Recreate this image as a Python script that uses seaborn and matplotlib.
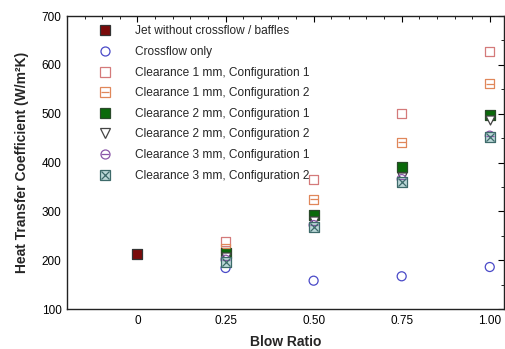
import matplotlib
matplotlib.use("Agg")
import matplotlib.pyplot as plt
import seaborn as sns
import numpy as np
from matplotlib.ticker import MultipleLocator, FixedLocator

sns.set_theme(style="white")
plt.rcParams['font.family'] = ['Liberation Sans', 'DejaVu Sans']

# ---- data ----
blow_jet = [0.0]
htc_jet = [212]
blow = [0.25, 0.50, 0.75, 1.00]
htc_crossflow = [184, 158, 167, 186]
htc_c1_cfg1 = [239, 366, 500, 627]
htc_c1_cfg2 = [224, 325, 442, 561]
htc_c2_cfg1 = [215, 293, 391, 497]
htc_c2_cfg2 = [207, 280, 370, 487]
htc_c3_cfg1 = [201, 272, 366, 455]
htc_c3_cfg2 = [196, 268, 361, 453]
labels = ["Jet without crossflow / baffles", "Crossflow only",
          "Clearance 1 mm, Configuration 1", "Clearance 1 mm, Configuration 2",
          "Clearance 2 mm, Configuration 1", "Clearance 2 mm, Configuration 2",
          "Clearance 3 mm, Configuration 1", "Clearance 3 mm, Configuration 2"]
xticks = [0, 0.25, 0.50, 0.75, 1.00]
xticklabels = ["0", "0.25", "0.50", "0.75", "1.00"]
yticks = [100, 200, 300, 400, 500, 600, 700]

fig = plt.figure(figsize=(5.05, 3.49), dpi=100)
ax = fig.add_axes([0.1327, 0.1146, 0.865, 0.8395])

S = 42
series = [
    (blow_jet, htc_jet, dict(marker='s', facecolor='#7a0a0a', edgecolor='#333333'), None),
    (blow, htc_crossflow, dict(marker='o', facecolor='none', edgecolor='#4a4ac8'), None),
    (blow, htc_c1_cfg1, dict(marker='s', facecolor='none', edgecolor='#d47a7a'), None),
    (blow, htc_c1_cfg2, dict(marker='s', facecolor='none', edgecolor='#e0875a'), dict(marker='_', color='#e0875a')),
    (blow, htc_c2_cfg1, dict(marker='s', facecolor='#0a6a0a', edgecolor='#2a4a2a'), None),
    (blow, htc_c2_cfg2, dict(marker='v', facecolor='white', edgecolor='#444444'), None),
    (blow, htc_c3_cfg1, dict(marker='o', facecolor='none', edgecolor='#8a55a8'), dict(marker='_', color='#8a55a8')),
    (blow, htc_c3_cfg2, dict(marker='s', facecolor='#bcd8d8', edgecolor='#3d6a6a'), dict(marker='x', color='#3d6a6a')),
]

handles = []
for xs, ys, st, over in series:
    sns.scatterplot(x=xs, y=ys, ax=ax, marker=st['marker'], s=S,
                    facecolor=st['facecolor'], edgecolor=st['edgecolor'],
                    linewidth=0.9, zorder=3)
    h = plt.Line2D([], [], linestyle='none', marker=st['marker'], markersize=6.5,
                   markerfacecolor=st['facecolor'], markeredgecolor=st['edgecolor'],
                   markeredgewidth=0.9)
    if over is not None:
        sns.scatterplot(x=xs, y=ys, ax=ax, marker=over['marker'], s=S * 0.8,
                        color=over['color'], linewidth=0.9, zorder=4)
        h2 = plt.Line2D([], [], linestyle='none', marker=over['marker'], markersize=5.5,
                        color=over['color'], markeredgewidth=0.9)
        h = (h, h2)
    handles.append(h)

ax.set_xlim(-0.2, 1.04)
ax.set_ylim(100, 700)
ax.xaxis.set_major_locator(FixedLocator(xticks))
ax.set_xticklabels(xticklabels)
ax.xaxis.set_minor_locator(MultipleLocator(0.05))
ax.yaxis.set_major_locator(FixedLocator(yticks))
ax.yaxis.set_minor_locator(MultipleLocator(50))
ax.tick_params(which='both', direction='in', top=True, right=True,
               labelsize=8.5, colors='black', pad=4)
ax.tick_params(which='major', length=4, width=0.8)
ax.tick_params(which='minor', length=2, width=0.6)
for sp in ax.spines.values():
    sp.set_color('#222222')
    sp.set_linewidth(1.0)

ax.set_xlabel("Blow Ratio", fontsize=10, fontweight='bold', labelpad=6)
ax.set_ylabel("Heat Transfer Coefficient (W/m²K)", fontsize=10, fontweight='bold', labelpad=9)

leg = ax.legend(handles, labels, loc='upper left', bbox_to_anchor=(0.063, 0.984),
                frameon=False, handlelength=1.0, handletextpad=2.0, labelspacing=0.72,
                borderaxespad=0, prop={'family': ['Liberation Sans', 'DejaVu Sans'], 'size': 8.6})

fig.savefig("out.png", dpi=100)
